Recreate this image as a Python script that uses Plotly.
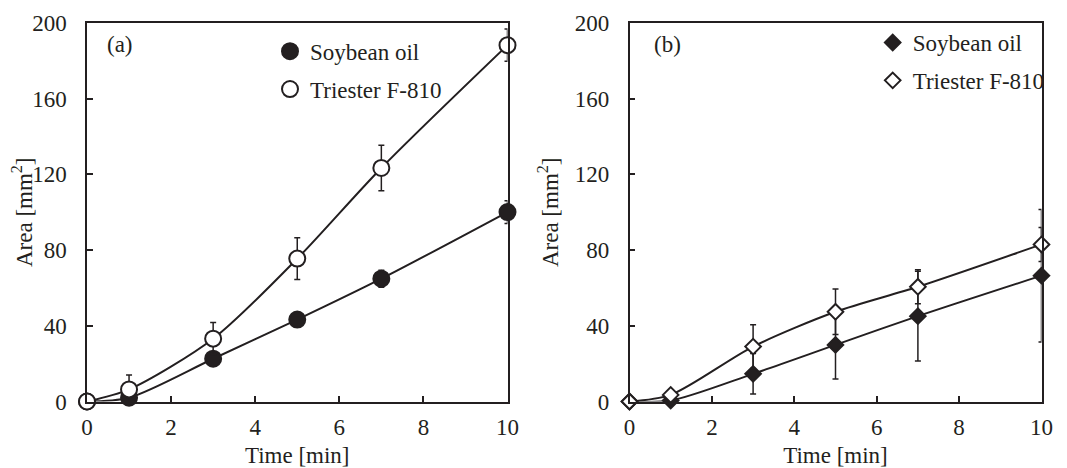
import plotly.graph_objects as go

# ---------------- data ----------------
time_min = [0, 1, 3, 5, 7, 10]

a_soy = [0, 2, 22.6, 43.3, 64.9, 100.1]
a_soy_err = [0, 1, 2, 1.5, 4.5, 6]
a_tri = [0, 6.4, 33.2, 75.5, 123.4, 188.3]
a_tri_err = [0, 7.6, 8.5, 11, 12, 8.5]

b_soy = [0, 0.5, 14.6, 29.9, 45.1, 66.5]
b_soy_err = [0, 0.5, 10.7, 18, 23.7, 35]
b_tri = [0, 3.5, 29, 47.4, 60.6, 83]
b_tri_err = [0, 1, 11.5, 12, 9, 9]

series_names = ["Soybean oil", "Triester F-810"]
panel_labels = ["(a)", "(b)"]
x_ticks = [0, 2, 4, 6, 8, 10]
y_ticks = [0, 40, 80, 120, 160, 200]

FONT = "Liberation Serif, Times New Roman, serif"
BLACK = "#231f20"
FS = 23

# page is drawn with an 8px body margin; figure fills the rest of the window
OFF = 8
W, H = 1067 - OFF, 468 - OFF


def px(x):
    return (x - OFF) / W


def py(y):
    return 1 - (y - OFF) / H


fig = go.Figure()


def add_series(y, err, xa, ya, symbol, size, filled, legend, name):
    fig.add_trace(go.Scatter(
        x=time_min, y=y, xaxis=xa, yaxis=ya,
        mode="lines+markers", line=dict(color=BLACK, width=2, shape="spline", smoothing=0.8),
        marker=dict(symbol=symbol, size=size, color=BLACK if filled else "white",
                    line=dict(color=BLACK, width=2)),
        error_y=dict(type="data", array=err, visible=True, color=BLACK, thickness=1.5, width=3),
        showlegend=False, cliponaxis=False,
    ))
    # legend entry (marker only)
    fig.add_trace(go.Scatter(
        x=[None], y=[None], xaxis=xa, yaxis=ya, mode="markers", name=name,
        marker=dict(symbol=symbol, size=size, color=BLACK if filled else "white",
                    line=dict(color=BLACK, width=2)),
        legend=legend, legendgroup=legend + name,
    ))


add_series(a_soy, a_soy_err, "x", "y", "circle", 16, True, "legend", series_names[0])
add_series(a_tri, a_tri_err, "x", "y", "circle", 16, False, "legend", series_names[1])
add_series(b_soy, b_soy_err, "x2", "y2", "diamond", 12, True, "legend2", series_names[0])
add_series(b_tri, b_tri_err, "x2", "y2", "diamond", 12, False, "legend2", series_names[1])

y_dom = [py(401.5), py(23)]

axis_common = dict(
    showline=True, linecolor=BLACK, linewidth=1.5, mirror=True,
    ticks="inside", ticklen=6, tickwidth=1.5, tickcolor=BLACK,
    showgrid=False, zeroline=False, automargin=False,
    tickfont=dict(family=FONT, size=FS, color=BLACK),
    title_font=dict(family=FONT, size=FS, color=BLACK),
)

fig.update_layout(
    width=W, height=H,
    margin=dict(l=0, r=0, t=0, b=0),
    paper_bgcolor="white", plot_bgcolor="white",
    font=dict(family=FONT, size=FS, color=BLACK),
    xaxis=dict(domain=[px(87), px(507.5)], range=[0, 10], tickvals=x_ticks, anchor="y",
               ticklabelstandoff=4,
               title=dict(text="Time [min]", standoff=10), **axis_common),
    yaxis=dict(domain=y_dom, range=[0, 200], tickvals=y_ticks, anchor="x",
               ticklabelstandoff=14,
               title=dict(text="Area [mm<sup>2</sup>]", standoff=10), **axis_common),
    xaxis2=dict(domain=[px(629.5), px(1041.5)], range=[0, 10], tickvals=x_ticks, anchor="y2",
                ticklabelstandoff=4,
                title=dict(text="Time [min]", standoff=10), **axis_common),
    yaxis2=dict(domain=y_dom, range=[0, 200], tickvals=y_ticks, anchor="x2",
                ticklabelstandoff=14,
                title=dict(text="Area [mm<sup>2</sup>]", standoff=10), **axis_common),
    legend=dict(x=262 / W, y=1 - 21.7 / H, xanchor="left", yanchor="top",
                bgcolor="rgba(0,0,0,0)", font=dict(family=FONT, size=FS, color=BLACK),
                traceorder="grouped", tracegroupgap=5, itemwidth=30),
    legend2=dict(x=864.7 / W, y=1 - 13 / H, xanchor="left", yanchor="top",
                 bgcolor="rgba(0,0,0,0)", font=dict(family=FONT, size=FS, color=BLACK),
                 traceorder="grouped", tracegroupgap=5, itemwidth=30),
    annotations=[
        dict(text=panel_labels[0], xref="paper", yref="paper", x=px(105), y=py(45),
             xanchor="left", yanchor="middle", showarrow=False,
             font=dict(family=FONT, size=FS, color=BLACK)),
        dict(text=panel_labels[1], xref="paper", yref="paper", x=px(652), y=py(45),
             xanchor="left", yanchor="middle", showarrow=False,
             font=dict(family=FONT, size=FS, color=BLACK)),
    ],
)

fig.write_html("out.html")
